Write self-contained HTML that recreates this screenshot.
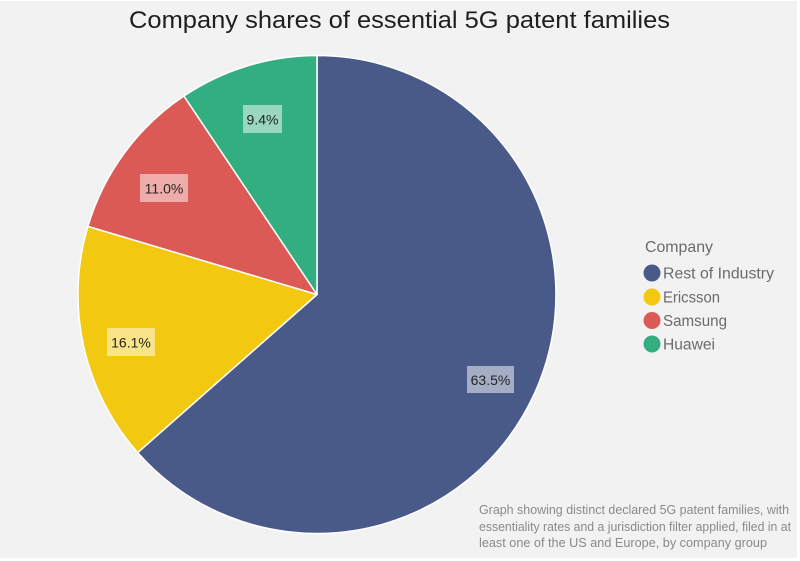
<!DOCTYPE html>
<html>
<head>
<meta charset="utf-8">
<style>
  html, body { margin:0; padding:0; background:#ffffff; }
  body { width:800px; height:561px; overflow:hidden; }
  svg { display:block; }
  text { font-family: "Liberation Sans", "DejaVu Sans", sans-serif; }
</style>
</head>
<body>
<svg width="800" height="561" viewBox="0 0 800 561" xmlns="http://www.w3.org/2000/svg">
  <rect x="0" y="0" width="800" height="561" fill="#ffffff"/>
  <rect x="0" y="1" width="797" height="557" fill="#f2f2f2"/>

  <!-- Title -->
  <text x="129" y="28" font-size="24.5" fill="#1f1f1f" textLength="541" lengthAdjust="spacingAndGlyphs">Company shares of essential 5G patent families</text>

  <!-- Pie -->
  <g stroke="#ffffff" stroke-width="1.5" stroke-linejoin="round">
    <path d="M317,294.5 L317,55.5 A239,239 0 1 1 137.7,452.6 Z" fill="#4a5a88"/>
    <path d="M317,294.5 L137.7,452.6 A239,239 0 0 1 87.9,226.4 Z" fill="#f2c811"/>
    <path d="M317,294.5 L87.9,226.4 A239,239 0 0 1 183.9,96.0 Z" fill="#dc5a55"/>
    <path d="M317,294.5 L183.9,96.0 A239,239 0 0 1 317,55.5 Z" fill="#33ae81"/>
  </g>

  <!-- Data labels -->
  <g font-size="14" fill="#252423" text-anchor="middle">
    <rect x="243" y="105" width="39" height="28" fill="#ffffff" fill-opacity="0.5"/>
    <text x="262.5" y="124.5">9.4%</text>
    <rect x="140" y="174" width="48" height="28" fill="#ffffff" fill-opacity="0.5"/>
    <text x="164" y="193.5">11.0%</text>
    <rect x="107" y="328" width="48" height="28" fill="#ffffff" fill-opacity="0.5"/>
    <text x="131" y="347.5">16.1%</text>
    <rect x="467" y="366" width="47" height="27" fill="#ffffff" fill-opacity="0.5"/>
    <text x="490.5" y="385">63.5%</text>
  </g>

  <!-- Legend -->
  <g fill="#6b6b6b" font-size="15.5">
    <text x="645" y="252" textLength="68" lengthAdjust="spacingAndGlyphs">Company</text>
    <circle cx="652" cy="273" r="8.5" fill="#4a5a88"/>
    <text x="663" y="278.5" textLength="111" lengthAdjust="spacingAndGlyphs">Rest of Industry</text>
    <circle cx="652" cy="297" r="8.5" fill="#f2c811"/>
    <text x="663" y="302.5" textLength="57" lengthAdjust="spacingAndGlyphs">Ericsson</text>
    <circle cx="652" cy="320.5" r="8.5" fill="#dc5a55"/>
    <text x="663" y="326" textLength="64" lengthAdjust="spacingAndGlyphs">Samsung</text>
    <circle cx="652" cy="344" r="8.5" fill="#33ae81"/>
    <text x="663" y="349.5" textLength="52" lengthAdjust="spacingAndGlyphs">Huawei</text>
  </g>

  <!-- Footnote -->
  <g fill="#8a8a8a" font-size="12.5">
    <text x="479" y="514" textLength="310" lengthAdjust="spacingAndGlyphs">Graph showing distinct declared 5G patent families, with</text>
    <text x="479" y="531" textLength="312" lengthAdjust="spacingAndGlyphs">essentiality rates and a jurisdiction filter applied, filed in at</text>
    <text x="479" y="547" textLength="288" lengthAdjust="spacingAndGlyphs">least one of the US and Europe, by company group</text>
  </g>
</svg>
</body>
</html>
